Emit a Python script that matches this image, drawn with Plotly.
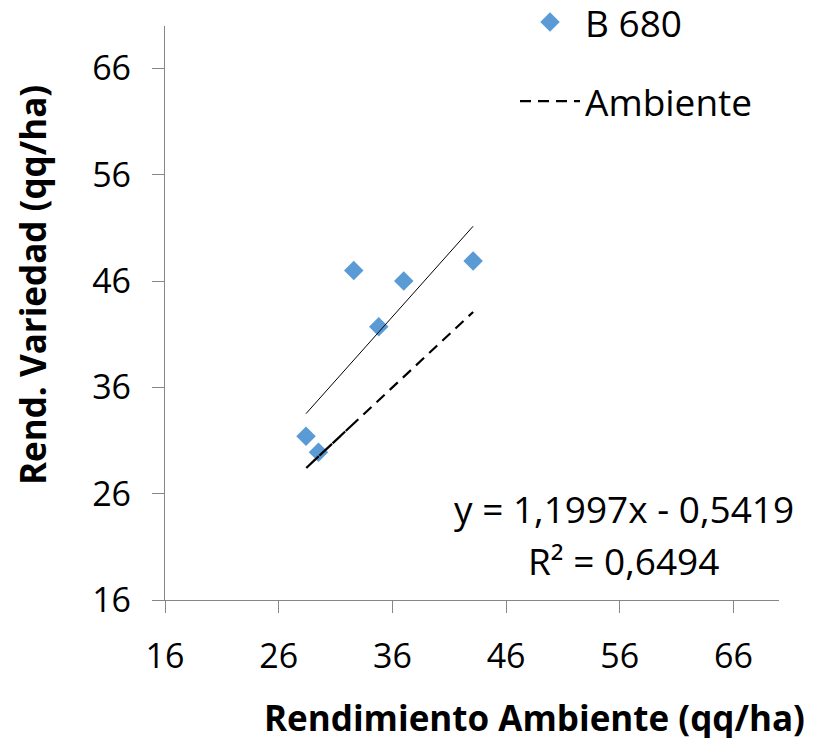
import plotly.graph_objects as go

# Data (in the order the series appears to have been drawn)
x_amb = [32.6, 28.4, 34.8, 29.5, 37.0, 43.1]
y_var = [47.0, 31.4, 41.7, 29.9, 46.0, 47.9]
series_name = "B 680"
ref_name = "Ambiente"
slope = 1.1997
intercept = -0.5419
r2 = 0.6494
tick_vals = [16, 26, 36, 46, 56, 66]
x_title = "Rendimiento Ambiente (qq/ha)"
y_title = "Rend. Variedad (qq/ha)"

FONT = "Open Sans"
BLUE = "#5B9BD5"
AXIS = "#868686"

trend_x = [min(x_amb), max(x_amb)]
trend_y = [slope * v + intercept for v in trend_x]

fig = go.Figure()
fig.add_trace(go.Scatter(
    x=x_amb, y=y_var, mode="markers", name=series_name,
    marker=dict(symbol="diamond", size=15, color=BLUE),
    legendgroup="a",
))
fig.add_trace(go.Scatter(
    x=x_amb, y=x_amb, mode="lines", name=ref_name,
    line=dict(color="black", width=2.2, dash="11px,7px"),
    legendgroup="b",
))
fig.add_trace(go.Scatter(
    x=trend_x, y=trend_y, mode="lines", showlegend=False,
    line=dict(color="black", width=1),
))

axis_common = dict(
    tickvals=tick_vals, showgrid=False, zeroline=False,
    showline=True, linecolor=AXIS, linewidth=1.3,
    ticks="outside", ticklen=12, tickcolor=AXIS, tickwidth=1.3,
    tickfont=dict(family=FONT, size=34, color="black"),
)
fig.update_xaxes(range=[16, 70], ticklabelstandoff=14, **axis_common)
fig.update_yaxes(range=[16, 70], ticklabelstandoff=14, **axis_common)

fig.add_annotation(text=f"<b>{x_title}</b>", xref="paper", yref="paper",
                   x=0.6026, y=-0.205, xanchor="center", yanchor="middle",
                   showarrow=False, font=dict(family=FONT, size=35, color="black"))
fig.add_annotation(text=f"<b>{y_title}</b>", xref="paper", yref="paper",
                   x=-0.2166, y=0.5486, xanchor="center", yanchor="middle",
                   textangle=-90, showarrow=False,
                   font=dict(family=FONT, size=35, color="black"))
fig.add_annotation(text=f"y = {str(slope).replace('.', ',')}x - {str(abs(intercept)).replace('.', ',')}",
                   xref="paper", yref="paper", x=0.7475, y=0.16,
                   xanchor="center", yanchor="middle", showarrow=False,
                   font=dict(family=FONT, size=37, color="black"))
fig.add_annotation(text=f"R² = {str(r2).replace('.', ',')}",
                   xref="paper", yref="paper", x=0.7475, y=0.069,
                   xanchor="center", yanchor="middle", showarrow=False,
                   font=dict(family=FONT, size=37, color="black"))

fig.update_layout(
    width=819, height=738,
    margin=dict(l=157, r=48, t=18, b=146, autoexpand=False),
    paper_bgcolor="white", plot_bgcolor="white",
    showlegend=True,
    legend=dict(x=0.57, y=1.06, xanchor="left", yanchor="top",
                font=dict(family=FONT, size=37, color="black"),
                itemwidth=60, tracegroupgap=28, traceorder="grouped",
                bgcolor="rgba(0,0,0,0)"),
)

fig.write_html("out.html")
